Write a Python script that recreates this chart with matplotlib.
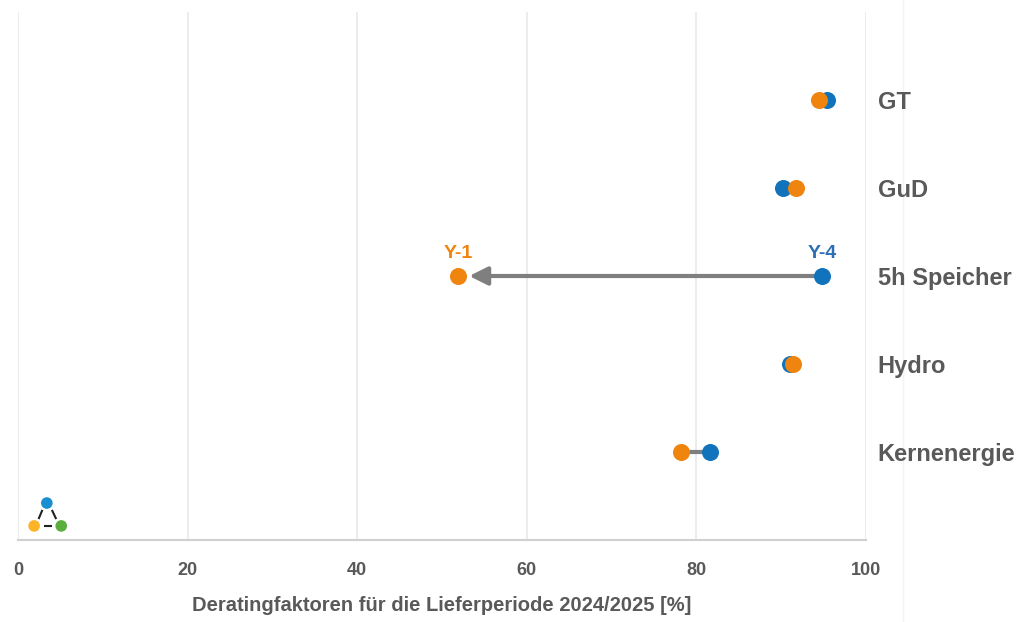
import matplotlib.pyplot as plt
from matplotlib.lines import Line2D

# Derating factors per technology, delivery period 2024/2025 [%]
categories = ['Kernenergie', 'Hydro', '5h Speicher', 'GuD', 'GT']
y4_values = [81.6, 91.0, 94.8, 90.2, 95.4]
y1_values = [78.2, 91.4, 51.9, 91.7, 94.5]

# small three-node icon in the lower left corner
icon_x = [3.4, 1.9, 5.1]
icon_y = [0.42, 0.16, 0.16]
icon_colors = ['#1a8fd0', '#fbb427', '#5aae3e']

xticks = [0, 20, 40, 60, 80, 100]

blue = '#1173bb'
orange = '#ef840f'
grey_text = '#595959'

plt.rcParams['font.family'] = ['Liberation Sans', 'DejaVu Sans']

fig = plt.figure(figsize=(10.22, 6.22), dpi=100)

# faint frame line to the right of the labels
fig.add_artist(Line2D([903 / 1022, 903 / 1022], [0, 1], color='#f3f3f3', lw=1,
                      transform=fig.transFigure, zorder=0))

ax = fig.add_axes([18 / 1022, 1 - 540 / 622, 848 / 1022, 528 / 622])
ax.patch.set_alpha(0)

ypos = list(range(1, len(categories) + 1))

ax.set_xlim(0, 100)
ax.set_ylim(0, 6)
ax.set_xticks(xticks)
ax.set_xticklabels([str(t) for t in xticks], fontsize=13, fontweight='bold', color=grey_text)
ax.set_yticks([])
ax.tick_params(axis='x', length=0, pad=16)
ax.grid(axis='x', color='#ebebeb', linewidth=1.3)
ax.set_axisbelow(True)
for side in ['top', 'right', 'left']:
    ax.spines[side].set_visible(False)
ax.spines['bottom'].set_color('#d0d0d0')
ax.spines['bottom'].set_linewidth(1.5)

ax.set_xlabel('Deratingfaktoren für die Lieferperiode 2024/2025 [%]', fontsize=14.5,
              fontweight='bold', color=grey_text, labelpad=12)

# connector between Y-4 and Y-1 (arrow only for the storage case)
for y, a, b, cat in zip(ypos, y4_values, y1_values, categories):
    if cat == '5h Speicher':
        ax.annotate('', xy=(b, y), xytext=(a, y),
                    arrowprops=dict(arrowstyle='-|>,head_length=1.1,head_width=0.55',
                                    color='#7f7f7f', lw=3, shrinkA=0, shrinkB=8),
                    zorder=2)
    else:
        ax.plot([a, b], [y, y], color='#7f7f7f', lw=3, zorder=2)

ax.scatter(y4_values, ypos, s=150, color=blue, zorder=3, linewidths=0)
ax.scatter(y1_values, ypos, s=150, color=orange, zorder=4, linewidths=0)

i = categories.index('5h Speicher')
ax.text(y1_values[i], ypos[i] + 0.16, 'Y-1', color=orange, fontsize=14,
        fontweight='bold', ha='center', va='bottom')
ax.text(y4_values[i], ypos[i] + 0.16, 'Y-4', color='#2d6db3', fontsize=14,
        fontweight='bold', ha='center', va='bottom')

for y, cat in zip(ypos, categories):
    ax.text(101.4, y - 0.03, cat, fontsize=17, fontweight='bold', color=grey_text,
            ha='left', va='center', clip_on=False)

# icon: dashed links, then the three nodes
pairs = [(0, 1), (0, 2), (1, 2)]
for p, q in pairs:
    x0, y0 = icon_x[p], icon_y[p]
    x1, y1 = icon_x[q], icon_y[q]
    ax.plot([x0 + 0.35 * (x1 - x0), x0 + 0.65 * (x1 - x0)],
            [y0 + 0.3 * (y1 - y0), y0 + 0.7 * (y1 - y0)],
            color='#222222', lw=1.5, zorder=2, solid_capstyle='butt')
ax.scatter(icon_x, icon_y, s=70, c=icon_colors, zorder=3, linewidths=0, clip_on=False)

fig.savefig('out.png', dpi=100, facecolor='white')
